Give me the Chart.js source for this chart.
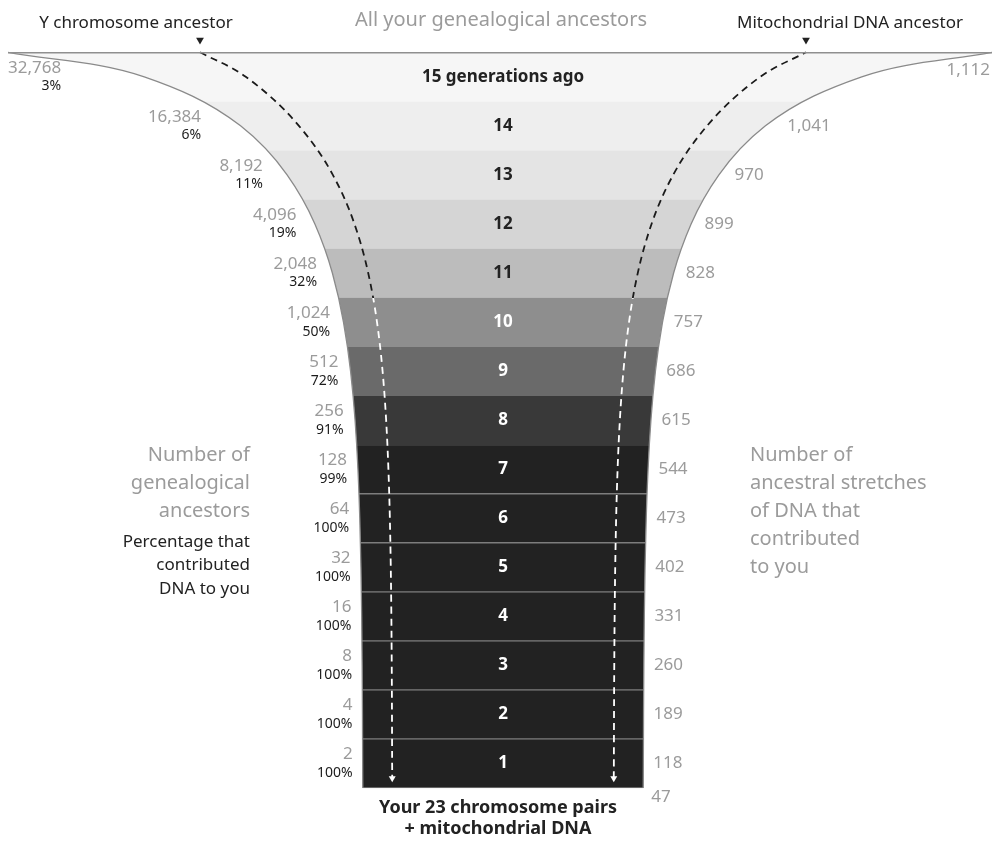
<!DOCTYPE html>
<html>
<head>
<meta charset="utf-8">
<title>Genealogical ancestors vs DNA ancestors</title>
<script src="https://cdn.jsdelivr.net/npm/chart.js@4.4.1/dist/chart.umd.min.js"></script>
<style>
  html, body { margin: 0; padding: 0; background: #fff; }
  #wrap { width: 992px; height: 844px; }
</style>
</head>
<body>
<div id="wrap"><canvas id="funnel" width="992" height="844"></canvas></div>
<script>
// generation 0 is you, 1 your parents ... 15 generations ago
const generations = [0, 1, 2, 3, 4, 5, 6, 7, 8, 9, 10, 11, 12, 13, 14, 15];
const bandLabels = [['Your 23 chromosome pairs', '+ mitochondrial DNA'],
  '1', '2', '3', '4', '5', '6', '7', '8', '9', '10', '11', '12', '13', '14', '15 generations ago'];
const ancestors = [1, 2, 4, 8, 16, 32, 64, 128, 256, 512, 1024, 2048, 4096, 8192, 16384, 32768];
const contributedPct = [null, 100, 100, 100, 100, 100, 100, 99, 91, 72, 50, 32, 19, 11, 6, 3];
const dnaStretches = [47, 118, 189, 260, 331, 402, 473, 544, 615, 686, 757, 828, 899, 970, 1041, 1112];

// styling, generation 1..15
const bandColors = ['#222222', '#222222', '#222222', '#222222', '#222222', '#222222', '#222222',
                    '#393939', '#6a6a6a', '#8e8e8e', '#bcbcbc', '#d5d5d5', '#e4e4e4', '#eeeeee', '#f6f6f6'];
const bandTextColors = ['#fff', '#fff', '#fff', '#fff', '#fff', '#fff', '#fff', '#fff', '#fff', '#fff',
                        '#222', '#222', '#222', '#222', '#222'];
const FONT = "'Noto Sans', 'Open Sans', sans-serif";
const GREY = '#9b9b9b';
const INK = '#222';

// axis frame (x in pixels from the funnel centre, y in generations)
const X_MIN = -495, X_MAX = 489;
const Y_MIN = -1.142, Y_MAX = 16.066;
const NECK = 140;          // half width of the funnel at the bottom
const LINEAGE = 0.79;      // where the Y / mtDNA lines run inside the funnel
const TOP_MARK = 303;      // where they start on the top rule
const ARROW_Y = 0.2;
const DASH_SWITCH = 10;    // dashes turn white below this generation

// how wide the funnel is drawn for a number of ancestors
function spread(a) { return 0.2156 * Math.pow(a, 0.65); }
function halfWidth(a) { return NECK + spread(a) + 9.4e-13 * Math.pow(a, 3); }
function rowY(g) { return g === 0 ? 0 : g - 0.5; }
const byX = (p, q) => p.x - q.x;

function edgePoints(side) {
  return generations.map((g, i) => ({ x: side * halfWidth(ancestors[i]), y: rowY(g) }))
    .concat([{ x: side < 0 ? X_MIN : X_MAX, y: 15 }])
    .sort(byX);
}

function lineagePoints(side) {
  return generations.map((g, i) => ({
      x: side * LINEAGE * (NECK + spread(ancestors[i])),
      y: g === 0 ? ARROW_Y : g - 0.5
    }))
    .concat([{ x: side * TOP_MARK, y: 15 }])
    .sort(byX);
}

function dashColor(ctx) {
  const chart = ctx.chart;
  const area = chart.chartArea;
  if (!area || !chart.scales.y) return INK;
  const py = chart.scales.y.getPixelForValue(DASH_SWITCH);
  const f = Math.max(0, Math.min(1, (py - area.top) / (area.bottom - area.top)));
  const g = chart.ctx.createLinearGradient(0, area.top, 0, area.bottom);
  g.addColorStop(0, '#1a1a1a');
  g.addColorStop(f, '#1a1a1a');
  g.addColorStop(Math.min(1, f + 0.0005), '#ffffff');
  g.addColorStop(1, '#ffffff');
  return g;
}

function lineageDataset(side) {
  return {
    type: 'line',
    data: lineagePoints(side),
    borderColor: dashColor,
    borderWidth: 1.8,
    borderDash: [7, 5],
    fill: false,
    cubicInterpolationMode: 'monotone',
    pointStyle: 'triangle',
    pointRotation: 180,
    pointRadius: (ctx) => (ctx.raw && ctx.raw.y === ARROW_Y) ? 4 : 0,
    pointBackgroundColor: '#fff',
    pointBorderWidth: 0,
    order: 2
  };
}

// white outside the funnel, so only the inside of each band shows
function edgeDataset(side) {
  return {
    type: 'line',
    data: edgePoints(side),
    borderColor: '#8a8a8a',
    borderWidth: 1.3,
    backgroundColor: '#ffffff',
    fill: 'start',
    cubicInterpolationMode: 'monotone',
    pointRadius: 0,
    order: 5
  };
}

function curveX(line, py) {
  let p = null;
  try { p = line.interpolate({ y: py }, 'y'); } catch (e) { p = null; }
  if (Array.isArray(p)) p = p[0];
  if (p && Number.isFinite(p.x)) return p.x;
  const pts = line.points;
  for (let i = 1; i < pts.length; i++) {
    const a = pts[i - 1], b = pts[i];
    if ((py - a.y) * (py - b.y) <= 0) {
      const t = (py - a.y) / ((b.y - a.y) || 1);
      return a.x + t * (b.x - a.x);
    }
  }
  return pts[pts.length - 1].x;
}

function put(ctx, str, x, y, font, color, align) {
  ctx.font = font;
  ctx.fillStyle = color;
  ctx.textAlign = align;
  ctx.fillText(str, x, y);
}

const labelPlugin = {
  id: 'funnelLabels',
  afterDraw(chart) {
    const { ctx, chartArea } = chart;
    const xs = chart.scales.x, ys = chart.scales.y;
    const left = chart.getDatasetMeta(1).dataset;
    const right = chart.getDatasetMeta(2).dataset;
    const cx = xs.getPixelForValue(0);
    const numFont = '17px ' + FONT;
    const pctFont = '14px ' + FONT;
    const last = generations[generations.length - 1];

    ctx.save();
    ctx.textBaseline = 'middle';

    // headings above the rule
    put(ctx, 'Y chromosome ancestor', 136, 23, '17px ' + FONT, INK, 'center');
    put(ctx, 'All your genealogical ancestors', cx - 2, 20, '20px ' + FONT, GREY, 'center');
    put(ctx, 'Mitochondrial DNA ancestor', 850, 23, '17px ' + FONT, INK, 'center');

    generations.forEach((g, i) => {
      if (g === 0) return;
      const top = ys.getPixelForValue(g);
      const mid = ys.getPixelForValue(g - 0.5);
      put(ctx, bandLabels[i], cx, mid, 'bold 17px ' + FONT, bandTextColors[i - 1], 'center');

      // ancestors and share that contributed DNA
      const num = ancestors[i].toLocaleString('en-US');
      const pct = contributedPct[i] + '%';
      const ny = top + 15.5, py = top + 34;
      ctx.font = numFont;
      const wNum = ctx.measureText(num).width;
      ctx.font = pctFont;
      const wPct = ctx.measureText(pct).width;
      const w = Math.max(wNum, wPct);
      let edge = curveX(left, ny - 6) - 10;
      if (g === last || edge - w < chartArea.left) edge = chartArea.left + w;
      put(ctx, num, edge, ny, numFont, GREY, 'right');
      put(ctx, pct, edge, py, pctFont, '#1c1c1c', 'right');

      // stretches of DNA
      const s = dnaStretches[i].toLocaleString('en-US');
      ctx.font = numFont;
      const wS = ctx.measureText(s).width;
      let sx = curveX(right, mid - 6) + 10;
      let sy = mid;
      if (g === last) { sx = chartArea.right - 2 - wS; sy = ny + 2; }
      else if (sx + wS > chartArea.right - 2) sx = chartArea.right - 2 - wS;
      put(ctx, s, sx, sy, numFont, GREY, 'left');
    });

    // generation 0: you
    const base = ys.getPixelForValue(0);
    const youX = xs.getPixelForValue(halfWidth(ancestors[0]));
    put(ctx, dnaStretches[0].toLocaleString('en-US'), youX + 8, base + 9, numFont, GREY, 'left');
    bandLabels[0].forEach((t, k) =>
      put(ctx, t, cx - 5, base + 20 + k * 21, 'bold 18px ' + FONT, INK, 'center'));

    // side notes
    const noteY = ys.getPixelForValue(7) + 11;
    ['Number of', 'genealogical', 'ancestors'].forEach((t, k) =>
      put(ctx, t, 250, noteY + k * 28, '20px ' + FONT, GREY, 'right'));
    ['Percentage that', 'contributed', 'DNA to you'].forEach((t, k) =>
      put(ctx, t, 250, noteY + 86 + k * 23.5, '17px ' + FONT, INK, 'right'));
    ['Number of', 'ancestral stretches', 'of DNA that', 'contributed', 'to you'].forEach((t, k) =>
      put(ctx, t, 750, noteY + k * 28, '20px ' + FONT, GREY, 'left'));

    ctx.restore();
  }
};

new Chart(document.getElementById('funnel'), {
  type: 'scatter',
  data: {
    datasets: [
      {
        type: 'bar',
        indexAxis: 'y',
        data: generations.slice(1).map((g) => ({ y: g - 0.5, x: [X_MIN, X_MAX] })),
        backgroundColor: bandColors,
        borderColor: '#7d7d7d',
        borderWidth: (ctx) => ctx.dataIndex < 7 ? { top: 1, bottom: 1, left: 0, right: 0 } : 0,
        borderSkipped: false,
        barPercentage: 1,
        categoryPercentage: 1,
        order: 10
      },
      edgeDataset(-1),
      edgeDataset(1),
      lineageDataset(-1),
      lineageDataset(1),
      {
        type: 'scatter',
        data: [{ x: -TOP_MARK, y: 15.25 }, { x: TOP_MARK, y: 15.25 }],
        pointStyle: 'triangle',
        rotation: 180,
        pointRadius: 4.5,
        backgroundColor: INK,
        borderWidth: 0,
        order: 1
      }
    ]
  },
  options: {
    responsive: false,
    animation: false,
    events: [],
    layout: { autoPadding: false, padding: { left: 8, right: 0, top: 0, bottom: 0 } },
    plugins: {
      legend: { display: false },
      tooltip: { enabled: false }
    },
    scales: {
      x: {
        type: 'linear', min: X_MIN, max: X_MAX, display: false, offset: false
      },
      y: {
        type: 'linear', min: Y_MIN, max: Y_MAX, offset: false,
        border: { display: false },
        grid: { z: 1, drawTicks: false, color: '#8f8f8f', lineWidth: 1.5, offset: false },
        ticks: { display: false },
        afterBuildTicks: (scale) => { scale.ticks = [{ value: 15 }]; }
      }
    }
  },
  plugins: [labelPlugin]
});
</script>
</body>
</html>
